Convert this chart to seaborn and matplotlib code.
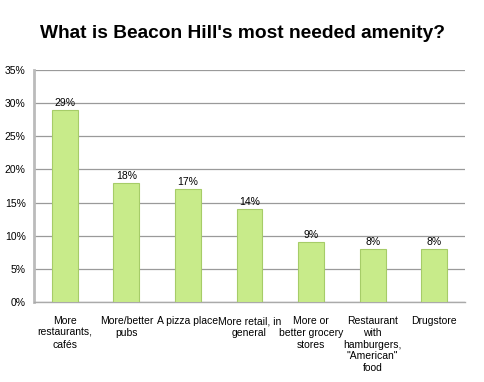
import matplotlib
matplotlib.use('Agg')
import matplotlib.pyplot as plt
import seaborn as sns
import pandas as pd

categories = ['More\nrestaurants,\ncafés', 'More/better\npubs', 'A pizza place',
              'More retail, in\ngeneral', 'More or\nbetter grocery\nstores',
              'Restaurant\nwith\nhamburgers,\n"American"\nfood', 'Drugstore']
shares = [29, 18, 17, 14, 9, 8, 8]
yticks = [0, 5, 10, 15, 20, 25, 30, 35]

df = pd.DataFrame({'cat': categories, 'pct': shares})

sns.set_style('white')
plt.rcParams['font.family'] = ['Liberation Sans', 'DejaVu Sans']
plt.rcParams['text.color'] = 'black'
plt.rcParams['xtick.color'] = 'black'
plt.rcParams['ytick.color'] = 'black'

fig = plt.figure(figsize=(4.85, 3.82), dpi=100)
ax = fig.add_axes([0.070, 0.209, 0.889, 0.608])

sns.barplot(data=df, x='cat', y='pct', color='#c8eb8a', width=0.42,
            edgecolor='#a6cc68', linewidth=0.8, saturation=1, ax=ax, zorder=3)

for i, v in enumerate(shares):
    ax.text(i, v + 0.3, f'{v}%', ha='center', va='bottom', fontsize=7.5, color='black')

ax.set_ylim(0, 35)
ax.set_xlim(-0.5, len(categories) - 0.5)
ax.set_yticks(yticks)
ax.set_yticklabels([f'{t}%' for t in yticks], fontsize=7.5)
ax.yaxis.grid(True, color='#9a9a9a', linewidth=0.9, zorder=0)
ax.set_axisbelow(True)

ax.set_xticks([i - 0.5 for i in range(len(categories) + 1)], minor=True)
ax.set_xticks(range(len(categories)))
ax.set_xticklabels(categories, fontsize=7.5, linespacing=1.22)
ax.tick_params(axis='x', which='major', length=0, pad=10)
ax.tick_params(axis='x', which='minor', length=4, color='#aaaaaa', width=0.8)
ax.tick_params(axis='y', length=4, color='#aaaaaa', width=0.8, pad=2, labelcolor='black')
ax.tick_params(axis='x', labelcolor='black')
ax.set_xlabel('')
ax.set_ylabel('')

for s in ['top', 'right']:
    ax.spines[s].set_visible(False)
ax.spines['left'].set_color('#bbbbbb')
ax.spines['left'].set_linewidth(2)
ax.spines['bottom'].set_color('#aaaaaa')
ax.spines['bottom'].set_linewidth(1)

fig.text(0.5, 0.913, "What is Beacon Hill's most needed amenity?", ha='center',
         va='center', fontsize=13.8, fontweight='bold', color='black')

fig.savefig('out.png', dpi=100)
